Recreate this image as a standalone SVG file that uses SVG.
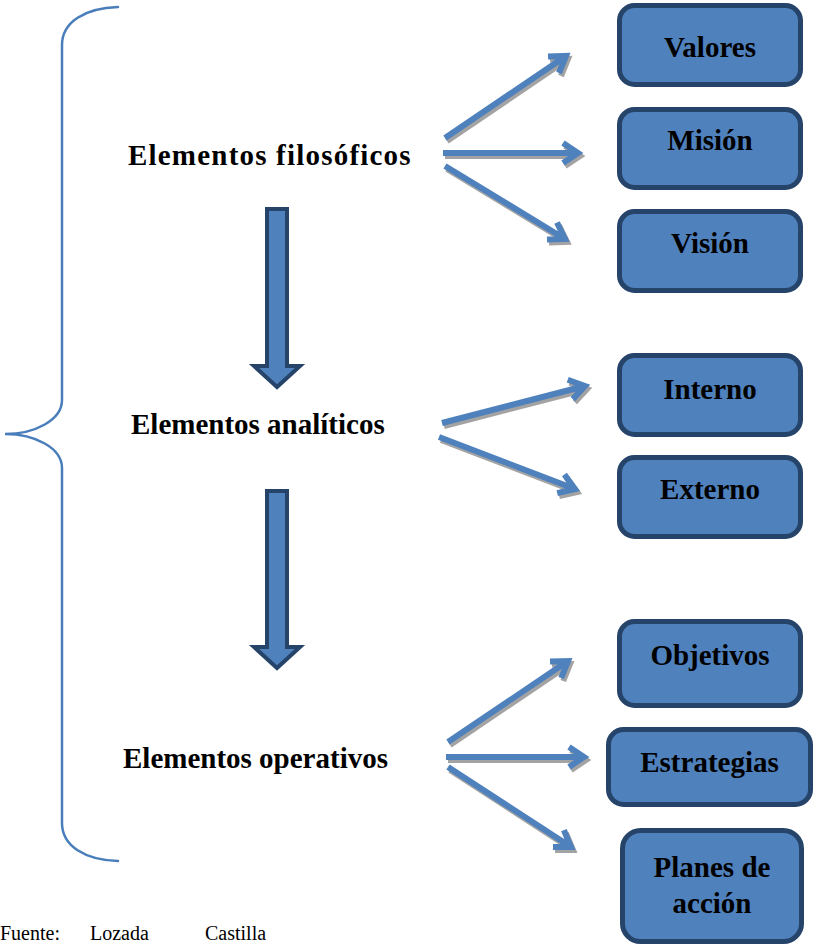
<svg xmlns="http://www.w3.org/2000/svg" xmlns:xlink="http://www.w3.org/1999/xlink" width="814" height="946" viewBox="0 0 814 946">
  <style>
    .box { fill: #4F81BD; stroke: #264469; stroke-width: 5; }
    .lbl { font-family: "Liberation Serif", "Times New Roman", serif; font-weight: bold; font-size: 29px; fill: #000; }
    .main { font-family: "Liberation Serif", "Times New Roman", serif; font-weight: bold; font-size: 29px; fill: #000; }
    .src { font-family: "Liberation Serif", "Times New Roman", serif; font-size: 20px; fill: #000; }
    .brace { fill: none; stroke: #4A7EBB; stroke-width: 2.5; stroke-linecap: round; }
    .arrow { fill: none; stroke: #4F81BD; stroke-width: 6; stroke-linejoin: miter; stroke-linecap: butt; }
    .shadow { fill: none; stroke: #A3A3A3; stroke-width: 6; stroke-linejoin: miter; stroke-linecap: butt; }
    .block { fill: #4F81BD; stroke: #264469; stroke-width: 4; stroke-linejoin: miter; }
  </style>
  <defs>
    <!-- thin open arrows: shaft plus chevron head -->
    <path id="a-val" d="M445,138 L566,56 M548,56.5 L566,56 L559,73"/>
    <path id="a-mis" d="M443,153 L578,153 M563,143 L578,153 L563,163"/>
    <path id="a-vis" d="M445,166 L565,239 M557,222.5 L565,239 L547,239.5"/>
    <path id="a-int" d="M442,423 L585,386 M567.7,379.7 L585,386 L572.8,399.1"/>
    <path id="a-ext" d="M439,437 L575,489 M564.4,474.4 L575,489 L557.2,493.1"/>
    <path id="a-obj" d="M448,742 L568,661 M550,661.4 L568,661 L561.2,678"/>
    <path id="a-est" d="M446,757 L584,757 M569,747 L584,757 L569,767"/>
    <path id="a-pla" d="M448,767 L571,847 M563.9,830.2 L571,847 L553,847"/>
  </defs>

  <!-- curly brace grouping the three levels -->
  <path class="brace" d="M118,7 C85,8 62,22 62,45 L62,400 C62,420 35,434 5,434 C35,434 62,448 62,468 L62,823 C62,846 85,860 118,861"/>

  <g id="connectors">
    <g transform="translate(2,3)">
      <use xlink:href="#a-val" class="shadow"/>
      <use xlink:href="#a-mis" class="shadow"/>
      <use xlink:href="#a-vis" class="shadow"/>
      <use xlink:href="#a-int" class="shadow"/>
      <use xlink:href="#a-ext" class="shadow"/>
      <use xlink:href="#a-obj" class="shadow"/>
      <use xlink:href="#a-est" class="shadow"/>
      <use xlink:href="#a-pla" class="shadow"/>
    </g>
    <use xlink:href="#a-val" class="arrow"/>
    <use xlink:href="#a-mis" class="arrow"/>
    <use xlink:href="#a-vis" class="arrow"/>
    <use xlink:href="#a-int" class="arrow"/>
    <use xlink:href="#a-ext" class="arrow"/>
    <use xlink:href="#a-obj" class="arrow"/>
    <use xlink:href="#a-est" class="arrow"/>
    <use xlink:href="#a-pla" class="arrow"/>
    <!-- block arrows between levels -->
    <polygon class="block" points="267,209 287,209 287,366 300,366 277,387 254,366 267,366"/>
    <polygon class="block" points="267,491 287,491 287,647 300,647 277,668 254,647 267,647"/>
  </g>

  <g id="filosoficos"><text class="main" x="128" y="165" letter-spacing="1.2">Elementos filosóficos</text></g>
  <g id="analiticos"><text class="main" x="131" y="434">Elementos analíticos</text></g>
  <g id="operativos"><text class="main" x="123" y="768">Elementos operativos</text></g>

  <g id="valores">
    <rect class="box" x="619.5" y="5.5" width="181" height="79" rx="15"/>
    <text class="lbl" x="710" y="57" text-anchor="middle">Valores</text>
  </g>
  <g id="mision">
    <rect class="box" x="619.5" y="109.5" width="181" height="78" rx="15"/>
    <text class="lbl" x="710" y="150" text-anchor="middle">Misión</text>
  </g>
  <g id="vision">
    <rect class="box" x="619.5" y="211.5" width="181" height="79" rx="15"/>
    <text class="lbl" x="710" y="253" text-anchor="middle">Visión</text>
  </g>
  <g id="interno">
    <rect class="box" x="619.5" y="355.5" width="181" height="79" rx="15"/>
    <text class="lbl" x="710" y="399" text-anchor="middle">Interno</text>
  </g>
  <g id="externo">
    <rect class="box" x="619.5" y="457.5" width="181" height="79" rx="15"/>
    <text class="lbl" x="710" y="499" text-anchor="middle">Externo</text>
  </g>
  <g id="objetivos">
    <rect class="box" x="619.5" y="621.5" width="181" height="84" rx="15"/>
    <text class="lbl" x="710" y="665" text-anchor="middle">Objetivos</text>
  </g>
  <g id="estrategias">
    <rect class="box" x="608.5" y="729.5" width="202" height="75" rx="15"/>
    <text class="lbl" x="709.5" y="772" text-anchor="middle">Estrategias</text>
  </g>
  <g id="planes">
    <rect class="box" x="622.5" y="830.5" width="179" height="111" rx="18"/>
    <text class="lbl" x="712" y="877" text-anchor="middle">Planes de</text>
    <text class="lbl" x="712" y="913" text-anchor="middle">acción</text>
  </g>

  <!-- source line along the bottom edge -->
  <g id="fuente">
    <text class="src" x="0" y="940">Fuente:</text>
    <text class="src" x="90" y="940">Lozada</text>
    <text class="src" x="205" y="940">Castilla</text>
  </g>
</svg>
